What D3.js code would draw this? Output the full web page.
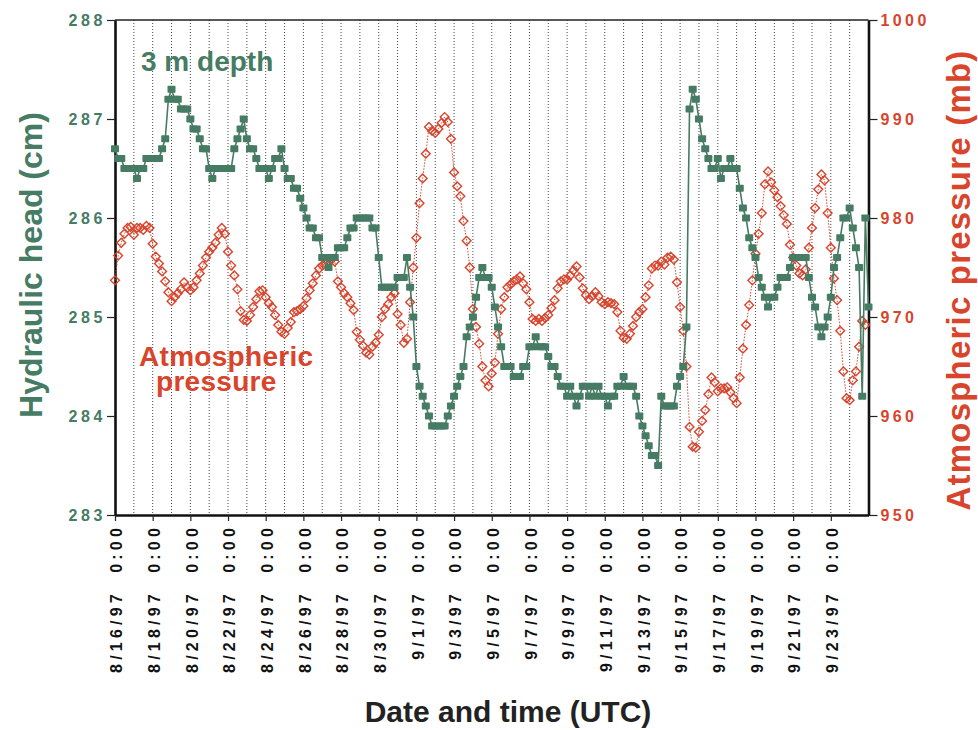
<!DOCTYPE html>
<html>
<head>
<meta charset="utf-8">
<script src="https://cdn.jsdelivr.net/npm/d3@7"></script>
<style>
body { margin: 0; background: #fff; }
text { font-family: "Liberation Sans", Arial, Helvetica, sans-serif; font-weight: bold; }
</style>
</head>
<body>
<script>
// readings every 4 hours starting 8/16/97 0:00 UTC
var startDate = Date.UTC(1997, 7, 16),
    stepHours = 4;

// hydraulic head at 3 m depth (cm)
var headCm = [
    286.7, 286.6, 286.6, 286.5, 286.5, 286.5,   // 8/16
    286.5, 286.4, 286.5, 286.5, 286.6, 286.6,   // 8/17
    286.6, 286.6, 286.6, 286.7, 286.8, 287.2,   // 8/18
    287.3, 287.2, 287.2, 287.1, 287.1, 287.1,   // 8/19
    287.0, 286.9, 286.9, 286.8, 286.7, 286.7,   // 8/20
    286.5, 286.4, 286.5, 286.5, 286.5, 286.5,   // 8/21
    286.5, 286.5, 286.7, 286.8, 286.9, 287.0,   // 8/22
    286.8, 286.7, 286.7, 286.6, 286.5, 286.5,   // 8/23
    286.5, 286.4, 286.5, 286.6, 286.6, 286.7,   // 8/24
    286.5, 286.4, 286.4, 286.3, 286.3, 286.2,   // 8/25
    286.1, 286.0, 285.9, 285.9, 285.8, 285.8,   // 8/26
    285.6, 285.6, 285.5, 285.6, 285.6, 285.7,   // 8/27
    285.7, 285.7, 285.8, 285.9, 285.9, 286.0,   // 8/28
    286.0, 286.0, 286.0, 286.0, 285.9, 285.9,   // 8/29
    285.6, 285.3, 285.3, 285.3, 285.3, 285.3,   // 8/30
    285.4, 285.4, 285.4, 285.6, 285.3, 285.0,   // 8/31
    284.5, 284.3, 284.2, 284.1, 284.0, 283.9,   // 9/1
    283.9, 283.9, 283.9, 283.9, 284.0, 284.1,   // 9/2
    284.2, 284.3, 284.4, 284.5, 284.8, 284.9,   // 9/3
    285.0, 285.2, 285.4, 285.5, 285.4, 285.4,   // 9/4
    285.3, 285.1, 284.9, 284.7, 284.5, 284.5,   // 9/5
    284.5, 284.4, 284.4, 284.4, 284.5, 284.5,   // 9/6
    284.7, 284.7, 284.8, 284.7, 284.7, 284.7,   // 9/7
    284.6, 284.5, 284.5, 284.4, 284.3, 284.3,   // 9/8
    284.2, 284.3, 284.2, 284.1, 284.2, 284.3,   // 9/9
    284.3, 284.2, 284.3, 284.2, 284.3, 284.2,   // 9/10
    284.2, 284.1, 284.2, 284.2, 284.3, 284.3,   // 9/11
    284.4, 284.3, 284.3, 284.3, 284.2, 284.0,   // 9/12
    283.9, 283.8, 283.7, 283.6, 283.6, 283.5,   // 9/13
    284.2, 284.1, 284.1, 284.1, 284.1, 284.3,   // 9/14
    284.4, 284.5, 284.9, 287.1, 287.3, 287.2,   // 9/15
    287.0, 286.8, 286.7, 286.6, 286.5, 286.5,   // 9/16
    286.6, 286.4, 286.5, 286.5, 286.6, 286.5,   // 9/17
    286.5, 286.3, 286.1, 286.0, 285.8, 285.7,   // 9/18
    285.6, 285.4, 285.3, 285.2, 285.1, 285.2,   // 9/19
    285.2, 285.3, 285.4, 285.4, 285.4, 285.5,   // 9/20
    285.6, 285.6, 285.6, 285.6, 285.6, 285.4,   // 9/21
    285.2, 285.1, 284.9, 284.8, 284.9, 285.0,   // 9/22
    285.2, 285.5, 285.6, 285.8, 286.0, 286.0,   // 9/23
    286.1, 285.9, 285.7, 285.5, 284.2, 286.0,   // 9/24
    285.1
];

// atmospheric pressure (mb)
var pressureMb = [
    973.7, 976.2, 977.5, 978.4, 979.0, 979.1,   // 8/16
    978.3, 979.0, 979.0, 978.8, 979.2, 979.0,   // 8/17
    977.4, 976.1, 975.4, 974.6, 973.6, 972.5,   // 8/18
    971.6, 972.0, 972.4, 972.8, 973.5, 973.0,   // 8/19
    972.7, 973.0, 973.7, 974.4, 975.2, 976.0,   // 8/20
    976.6, 977.0, 977.5, 978.3, 979.0, 978.4,   // 8/21
    976.6, 975.2, 974.2, 972.8, 970.6, 969.7,   // 8/22
    969.6, 970.2, 971.0, 971.8, 972.6, 972.7,   // 8/23
    972.0, 971.4, 971.0, 970.2, 969.2, 968.5,   // 8/24
    968.3, 968.9, 969.5, 970.5, 970.6, 970.8,   // 8/25
    971.1, 971.9, 972.7, 973.4, 974.2, 974.9,   // 8/26
    975.2, 975.4, 975.6, 975.8, 975.6, 973.6,   // 8/27
    973.0, 972.4, 972.0, 971.4, 970.7, 968.5,   // 8/28
    967.7, 967.1, 966.4, 966.2, 967.0, 967.4,   // 8/29
    968.2, 970.0, 970.8, 971.3, 972.0, 972.4,   // 8/30
    970.3, 969.2, 967.4, 967.8, 971.5, 975.0,   // 8/31
    978.0, 981.5, 984.0, 986.5, 989.2, 988.8,   // 9/1
    988.6, 989.0, 989.6, 990.2, 989.7, 988.0,   // 9/2
    984.6, 983.2, 982.2, 979.7, 977.7, 975.0,   // 9/3
    970.8, 969.0, 967.3, 965.0, 963.6, 963.0,   // 9/4
    964.3, 965.4, 968.3, 970.8, 972.0, 973.0,   // 9/5
    973.3, 973.6, 973.8, 974.1, 973.4, 972.8,   // 9/6
    971.5, 969.8, 969.6, 969.8, 969.6, 969.9,   // 9/7
    970.2, 970.9, 971.7, 972.9, 973.6, 973.8,   // 9/8
    973.8, 974.2, 974.7, 975.1, 974.0, 972.9,   // 9/9
    972.2, 971.8, 972.1, 972.5, 972.1, 971.5,   // 9/10
    971.3, 971.5, 971.4, 971.3, 970.5, 968.6,   // 9/11
    967.9, 967.8, 968.3, 969.1, 970.0, 970.5,   // 9/12
    970.8, 972.0, 973.2, 974.9, 975.2, 975.2,   // 9/13
    975.6, 975.3, 976.0, 976.1, 975.8, 973.5,   // 9/14
    971.0, 968.6, 965.0, 958.9, 956.9, 956.8,   // 9/15
    958.4, 959.5, 960.6, 962.2, 963.9, 963.4,   // 9/16
    962.5, 962.8, 962.8, 962.9, 962.4, 961.8,   // 9/17
    961.3, 963.9, 966.8, 969.2, 971.2, 973.7,   // 9/18
    976.4, 978.4, 980.5, 983.4, 984.7, 983.6,   // 9/19
    982.8, 982.1, 981.2, 980.3, 979.4, 977.3,   // 9/20
    976.0, 975.2, 974.4, 974.2, 974.8, 977.0,   // 9/21
    979.0, 981.0, 982.9, 984.4, 983.8, 980.5,   // 9/22
    977.0, 973.9, 971.7, 968.6, 964.5, 961.8,   // 9/23
    961.6, 963.6, 964.5, 967.0, 969.6, 969.2    // 9/24
];

// labelled dates on the time axis
var tickLabels = ['8/16/97', '8/18/97', '8/20/97', '8/22/97', '8/24/97', '8/26/97',
    '8/28/97', '8/30/97', '9/1/97', '9/3/97', '9/5/97', '9/7/97', '9/9/97',
    '9/11/97', '9/13/97', '9/15/97', '9/17/97', '9/19/97', '9/21/97', '9/23/97'];

var headTicks = [283, 284, 285, 286, 287, 288],
    pressureTicks = [950, 960, 970, 980, 990, 1000];

/**************************************/

var width  = 978,
    height = 730,
    green = '#467b64',
    red = '#d8442c';

var plotLeft = 115, plotRight = 868.5, plotTop = 20, plotBottom = 515;

var svg = d3.select('body')
    .append('svg')
    .attr('width', width)
    .attr('height', height);

var x = d3.scaleUtc()
    .domain([new Date(startDate), new Date(Date.UTC(1997, 8, 25))])
    .range([plotLeft, plotRight]);

var yHead = d3.scaleLinear().domain([283, 288]).range([plotBottom, plotTop]);
var yPres = d3.scaleLinear().domain([950, 1000]).range([plotBottom, plotTop]);

function timeAt(i) {
    return new Date(startDate + i * stepHours * 3600000);
}

function parseLabel(s) {
    var p = s.split('/');
    return new Date(Date.UTC(1900 + (+p[2]), +p[0] - 1, +p[1]));
}

// dotted day grid
var days = d3.utcDay.range(d3.utcDay.offset(x.domain()[0], 1), x.domain()[1]);
svg.append('g')
    .selectAll('line')
    .data(days)
    .enter().append('line')
    .attr('x1', function(d) { return x(d); })
    .attr('x2', function(d) { return x(d); })
    .attr('y1', plotTop)
    .attr('y2', plotBottom)
    .attr('stroke', '#333')
    .attr('stroke-width', 0.9)
    .attr('stroke-dasharray', '1,2');

// top border
svg.append('line')
    .attr('x1', plotLeft).attr('x2', plotRight)
    .attr('y1', plotTop).attr('y2', plotTop)
    .attr('stroke', '#222')
    .attr('stroke-width', 1.5);

// left axis (head)
var gl = svg.append('g').attr('transform', 'translate(' + plotLeft + ',0)');
gl.call(d3.axisLeft(yHead).tickValues(d3.range(283, 288.01, 0.2)).tickSize(4).tickSizeOuter(0).tickFormat(''));
gl.call(d3.axisLeft(yHead).tickValues(headTicks).tickSize(8).tickSizeOuter(0).tickFormat(d3.format('d')));

// right axis (pressure)
var gr = svg.append('g').attr('transform', 'translate(' + plotRight + ',0)');
gr.call(d3.axisRight(yPres).tickValues(d3.range(950, 1000.1, 2)).tickSize(5).tickSizeOuter(0).tickFormat(''));
gr.call(d3.axisRight(yPres).tickValues(pressureTicks).tickSize(9).tickSizeOuter(0).tickFormat(d3.format('d')));

// bottom axis (time)
var gb = svg.append('g').attr('transform', 'translate(0,' + plotBottom + ')');
gb.call(d3.axisBottom(x).ticks(d3.utcHour.every(12)).tickSize(5).tickSizeOuter(0).tickFormat(''));
gb.call(d3.axisBottom(x).tickValues(tickLabels.map(parseLabel)).tickSize(6).tickSizeOuter(0)
    .tickFormat(function(d, i) { return tickLabels[i] + '  0:00'; }));

gl.selectAll('.domain').attr('stroke', '#111').attr('stroke-width', 2.6);
gr.selectAll('.domain').attr('stroke', '#111').attr('stroke-width', 2.6);
gb.selectAll('.domain').attr('stroke', '#111').attr('stroke-width', 2.6);
svg.selectAll('.tick line').attr('stroke', '#222').attr('stroke-width', 1.2);

gl.selectAll('.tick text')
    .attr('fill', green)
    .attr('x', -9)
    .style('font-size', '16px')
    .style('letter-spacing', '3.6px');

gr.selectAll('.tick text')
    .attr('fill', red)
    .attr('x', 12)
    .style('font-size', '16px')
    .style('letter-spacing', '3.4px');

gb.selectAll('.tick text')
    .attr('fill', '#111')
    .attr('transform', 'rotate(-90)')
    .attr('text-anchor', 'end')
    .attr('x', -9)
    .attr('y', 1)
    .attr('dy', '0.36em')
    .style('font-size', '16px')
    .style('letter-spacing', '4.2px')
    .style('white-space', 'pre');

// pressure series: dotted line + open diamonds
var presLine = d3.line()
    .x(function(d, i) { return x(timeAt(i)); })
    .y(function(d) { return yPres(d); });

svg.append('path')
    .datum(pressureMb)
    .attr('d', presLine)
    .attr('fill', 'none')
    .attr('stroke', red)
    .attr('stroke-width', 1)
    .attr('stroke-dasharray', '1.5,1.5');

svg.append('g')
    .selectAll('path')
    .data(pressureMb)
    .enter().append('path')
    .attr('d', 'M0,-4.4L4.4,0L0,4.4L-4.4,0Z')
    .attr('transform', function(d, i) { return 'translate(' + x(timeAt(i)) + ',' + yPres(d) + ')'; })
    .attr('fill', 'none')
    .attr('stroke', red)
    .attr('stroke-width', 1.4);

// head series: solid line + filled squares
var headLine = d3.line()
    .x(function(d, i) { return x(timeAt(i)); })
    .y(function(d) { return yHead(d); });

svg.append('path')
    .datum(headCm)
    .attr('d', headLine)
    .attr('fill', 'none')
    .attr('stroke', green)
    .attr('stroke-width', 1.6);

svg.append('g')
    .selectAll('rect')
    .data(headCm)
    .enter().append('rect')
    .attr('x', function(d, i) { return x(timeAt(i)) - 4; })
    .attr('y', function(d) { return yHead(d) - 3.5; })
    .attr('width', 8)
    .attr('height', 7)
    .attr('rx', 0.8)
    .attr('fill', green);

// annotations
svg.append('text')
    .attr('x', 141).attr('y', 71)
    .attr('fill', green)
    .style('font-size', '28px')
    .text('3 m depth');

svg.append('text')
    .attr('x', 139).attr('y', 366)
    .attr('fill', red)
    .style('font-size', '28px')
    .style('letter-spacing', '0.3px')
    .text('Atmospheric');

svg.append('text')
    .attr('x', 156).attr('y', 391)
    .attr('fill', red)
    .style('font-size', '28px')
    .style('letter-spacing', '0.3px')
    .text('pressure');

// axis titles
svg.append('text')
    .attr('transform', 'translate(42,265) rotate(-90)')
    .attr('text-anchor', 'middle')
    .attr('fill', green)
    .style('font-size', '32px')
    .text('Hydraulic head (cm)');

svg.append('text')
    .attr('transform', 'translate(970,280) rotate(-90)')
    .attr('text-anchor', 'middle')
    .attr('fill', red)
    .style('font-size', '33px')
    .style('letter-spacing', '1.2px')
    .text('Atmospheric pressure (mb)');

svg.append('text')
    .attr('x', 508).attr('y', 722)
    .attr('text-anchor', 'middle')
    .attr('fill', '#222')
    .style('font-size', '30px')
    .text('Date and time (UTC)');
</script>
</body>
</html>
